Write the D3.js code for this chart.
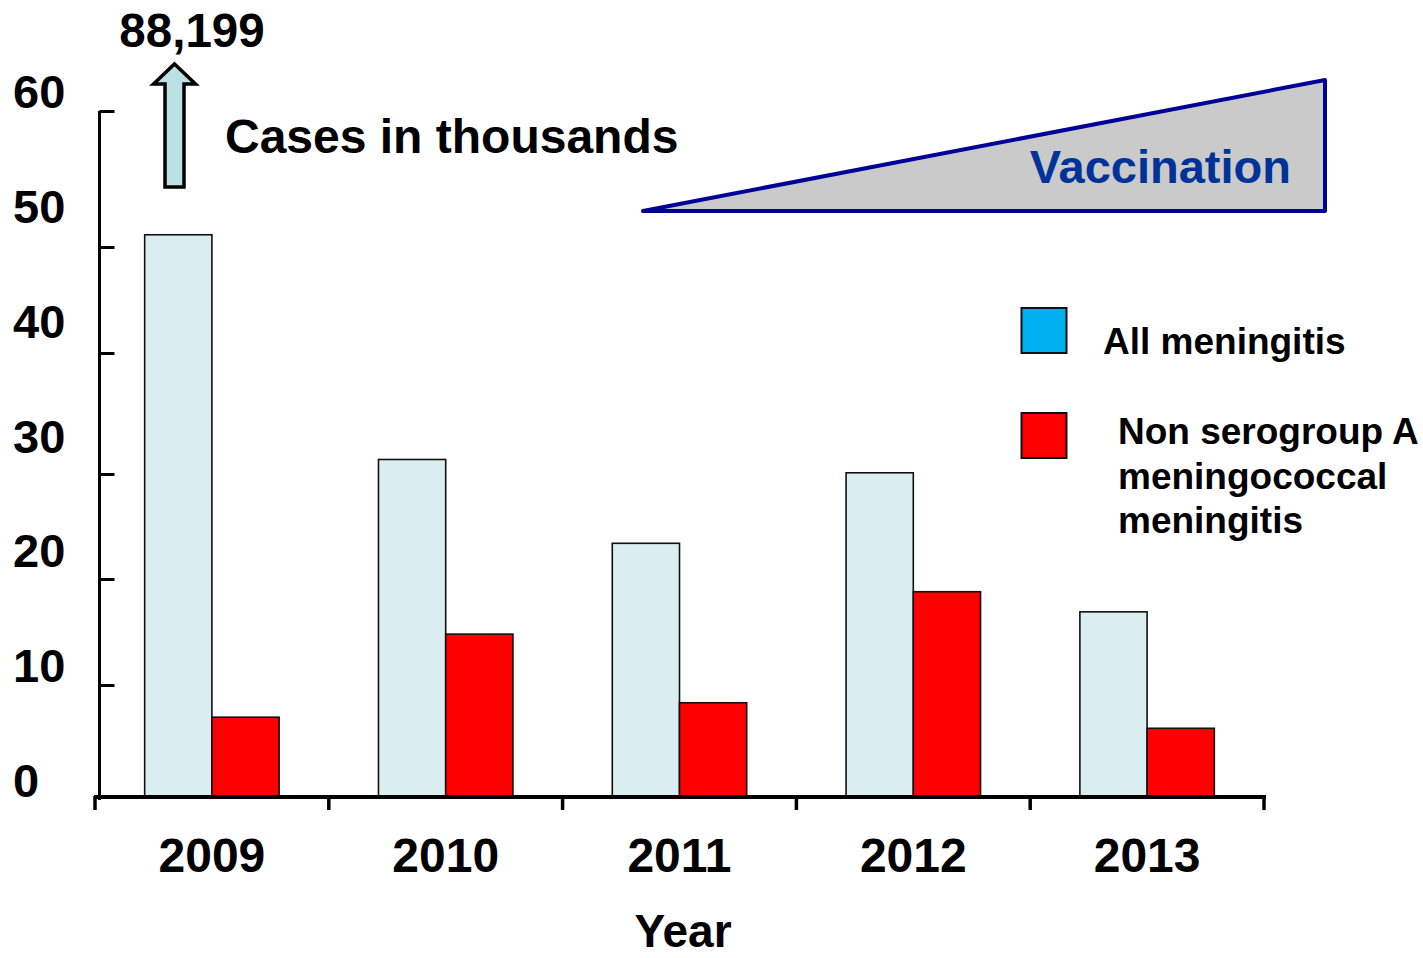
<!DOCTYPE html>
<html>
<head>
<meta charset="utf-8">
<script src="https://cdn.jsdelivr.net/npm/d3@7"></script>
<style>
  html, body { margin: 0; padding: 0; background: #fff; }
  svg { display: block; }
  text { font-family: "Liberation Sans", Arial, Helvetica, sans-serif; font-weight: bold; }
</style>
</head>
<body>
<svg id="chart" width="1423" height="958"></svg>
<script>
// Meningitis cases in the belt, thousands
const years = ["2009", "2010", "2011", "2012", "2013"];
const allMeningitis = [88.199, 31.2, 23.4, 30.1, 16.9];
const nonSerogroupA = [7.1, 14.8, 8.4, 18.8, 6.1];
// Axis break: taller bars are cut off here and carry an arrow
const displayCap = 50.9;

const yTickValues = [0, 10, 20, 30, 40, 50, 60];
const yTickLabels = ["0", "10", "20", "30", "40", "50", "60"];
const seriesNames = ["All meningitis", "Non serogroup A|meningococcal|meningitis"];
const overflowLabel = "88,199";

const svg = d3.select("#chart");

// Value axis (tick gridding is slightly uneven on this layout)
const y = d3.scaleLinear()
  .domain(yTickValues)
  .range([796, 685, 579, 474, 353, 247, 111]);
// Positions of the tick label baselines
const yLabel = d3.scaleLinear().domain([0, 60]).range([797, 108]);

const x = d3.scaleBand().domain(years).range([95, 1264])
  .paddingInner(0.425).paddingOuter(0.2125);
const xSub = d3.scaleBand().domain([0, 1]).range([0, x.bandwidth()]);

const fills = ["#DAEDF0", "#FF0000"];
const legendFills = ["#00B0F0", "#FF0000"];

// Bars
const series = [allMeningitis, nonSerogroupA];
series.forEach((vals, s) => {
  svg.append("g").selectAll("rect")
    .data(vals.map((v, i) => ({ year: years[i], v })))
    .join("rect")
    .attr("x", d => x(d.year) + xSub(s))
    .attr("width", xSub.bandwidth())
    .attr("y", d => y(Math.min(d.v, displayCap)))
    .attr("height", d => y(0) - y(Math.min(d.v, displayCap)))
    .attr("fill", fills[s])
    .attr("stroke", "#111")
    .attr("stroke-width", 1.6);
});

// Y axis: line with inward ticks
const yAxis = d3.axisRight(y).tickValues(yTickValues).tickSize(15).tickSizeOuter(0).tickFormat("");
const gy = svg.append("g").attr("transform", "translate(99.5,0)").call(yAxis);
gy.select(".domain").attr("stroke", "#000").attr("stroke-width", 3)
  .attr("d", `M0,${y(60)}V${y(0) + 4}`);
gy.selectAll(".tick line").attr("stroke", "#000").attr("stroke-width", 3);

svg.append("g").selectAll("text")
  .data(yTickValues)
  .join("text")
  .attr("x", 13)
  .attr("y", d => yLabel(d))
  .attr("font-size", 47)
  .attr("fill", "#000")
  .text((d, i) => yTickLabels[i]);

// X axis: baseline with category separators
svg.append("line")
  .attr("x1", 94).attr("x2", 1266)
  .attr("y1", y(0) + 1).attr("y2", y(0) + 1)
  .attr("stroke", "#000").attr("stroke-width", 4);
const boundaries = d3.range(years.length + 1).map(i => x.range()[0] + i * x.step());
svg.append("g").selectAll("line")
  .data(boundaries)
  .join("line")
  .attr("x1", d => d).attr("x2", d => d)
  .attr("y1", y(0)).attr("y2", y(0) + 14)
  .attr("stroke", "#000").attr("stroke-width", 3.5);

svg.append("g").selectAll("text")
  .data(years)
  .join("text")
  .attr("x", d => x(d) + x.bandwidth() / 2)
  .attr("y", 872)
  .attr("text-anchor", "middle")
  .attr("font-size", 48)
  .attr("fill", "#000")
  .text(d => d);

svg.append("text")
  .attr("x", 683).attr("y", 947)
  .attr("text-anchor", "middle")
  .attr("font-size", 46)
  .attr("fill", "#000")
  .text("Year");

// Overflow arrow above the truncated bar
const ax = 174.5;
const arrow = d3.path();
arrow.moveTo(ax, 64);
arrow.lineTo(ax + 21, 84);
arrow.lineTo(ax + 9.5, 84);
arrow.lineTo(ax + 9.5, 187);
arrow.lineTo(ax - 9.5, 187);
arrow.lineTo(ax - 9.5, 84);
arrow.lineTo(ax - 21, 84);
arrow.closePath();
svg.append("path")
  .attr("d", arrow.toString())
  .attr("fill", "#BCE1E4")
  .attr("stroke", "#000")
  .attr("stroke-width", 3.5)
  .attr("stroke-linejoin", "miter");

svg.append("text")
  .attr("x", 192).attr("y", 47)
  .attr("text-anchor", "middle")
  .attr("font-size", 47.5)
  .attr("fill", "#000")
  .text(overflowLabel);

svg.append("text")
  .attr("x", 225).attr("y", 153)
  .attr("font-size", 48)
  .attr("fill", "#000")
  .text("Cases in thousands");

// Vaccination ramp
svg.append("path")
  .attr("d", "M643,211L1325,211L1325,80Z")
  .attr("fill", "#CACACA")
  .attr("stroke", "#000099")
  .attr("stroke-width", 4)
  .attr("stroke-linejoin", "round");
svg.append("text")
  .attr("x", 1291).attr("y", 183)
  .attr("text-anchor", "end")
  .attr("font-size", 47)
  .attr("fill", "#003399")
  .text("Vaccination");

// Legend
const legendY = [308, 413];
const legendTextX = [1103, 1118];
const legendBase = [354, 444];
seriesNames.forEach((name, s) => {
  svg.append("rect")
    .attr("x", 1021.5).attr("y", legendY[s])
    .attr("width", 45).attr("height", 45)
    .attr("fill", legendFills[s])
    .attr("stroke", "#111").attr("stroke-width", 2);
  const t = svg.append("text")
    .attr("x", legendTextX[s]).attr("y", legendBase[s])
    .attr("font-size", 37).attr("fill", "#000");
  name.split("|").forEach((line, i) => {
    t.append("tspan")
      .attr("x", legendTextX[s])
      .attr("dy", i === 0 ? 0 : 44.5)
      .text(line);
  });
});
</script>
</body>
</html>
